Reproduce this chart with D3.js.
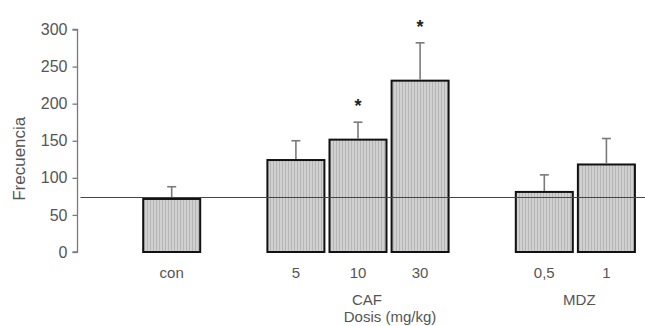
<!DOCTYPE html>
<html>
<head>
<meta charset="utf-8">
<script src="https://cdn.jsdelivr.net/npm/d3@7"></script>
<style>
  html, body { margin: 0; padding: 0; background: #fff; }
  svg { display: block; font-family: "Liberation Sans", Arial, sans-serif; }
</style>
</head>
<body>
<svg id="chart" width="645" height="326"></svg>
<script>
// ---- data ----
const slots = ["", "con", "_a", "5", "10", "30", "_b", "0,5", "1"];
const categories = ["con", "5", "10", "30", "0,5", "1"];
const means = [71.5, 124, 151.5, 231, 81, 118];
const errors = [16.5, 26, 23.5, 51, 23, 35];
const significant = [false, false, true, true, false, false];
const groups = ["CAF", "MDZ"];
const groupMembers = [["5", "10", "30"], ["0,5", "1"]];
const yTicks = [0, 50, 100, 150, 200, 250, 300];
const referenceValue = 73.5;
const yTitle = "Frecuencia";
const xTitle = "Dosis (mg/kg)";

// ---- layout ----
const svg = d3.select("#chart");
const W = 645;
const x = d3.scaleBand().domain(slots).range([76, 640]).paddingInner(0.082).paddingOuter(0.082);
const y = d3.scaleLinear().domain([0, 300]).range([252, 29.5]);

const defs = svg.append("defs");
const pat = defs.append("pattern").attr("id", "stripes").attr("patternUnits", "userSpaceOnUse")
  .attr("width", 3).attr("height", 3);
pat.append("rect").attr("width", 3).attr("height", 3).attr("fill", "#d0d0d0");
pat.append("rect").attr("x", 0).attr("width", 1).attr("height", 3).attr("fill", "#b6b6b6");

// y axis
const yAxis = d3.axisLeft(y).tickValues(yTicks).tickSize(5).tickPadding(5);
const gy = svg.append("g").attr("transform", "translate(77.5,0)").call(yAxis);
gy.select(".domain").attr("stroke", "#7a7a7a").attr("stroke-width", 1.3).attr("d", `M-5,${y(300)}H0V${y(0)}H-5`);
gy.selectAll(".tick line").attr("stroke", "#7a7a7a").attr("stroke-width", 1.3);
gy.selectAll(".tick text").attr("fill", "#555").attr("font-size", 16).attr("font-family", "Liberation Sans, Arial, sans-serif");

// y title
svg.append("text")
  .attr("transform", `translate(25,${(y(0)+y(300))/2 + 18}) rotate(-90)`)
  .attr("text-anchor", "middle")
  .attr("fill", "#555").attr("font-size", 17)
  .text(yTitle);

const data = categories.map((c, i) => ({ c, m: means[i], e: errors[i], s: significant[i] }));

// bars
svg.append("g").selectAll("rect").data(data).join("rect")
  .attr("x", d => x(d.c))
  .attr("y", d => y(d.m))
  .attr("width", x.bandwidth())
  .attr("height", d => y(0) - y(d.m))
  .attr("fill", "url(#stripes)")
  .attr("stroke", "#111").attr("stroke-width", 2);

// error bars
const eb = svg.append("g").attr("stroke", "#7a7a7a").attr("stroke-width", 1.6);
data.forEach(d => {
  const cx = x(d.c) + x.bandwidth() / 2;
  eb.append("line").attr("x1", cx).attr("x2", cx).attr("y1", y(d.m) - 1).attr("y2", y(d.m + d.e));
  eb.append("line").attr("x1", cx - 4.5).attr("x2", cx + 4.5).attr("y1", y(d.m + d.e)).attr("y2", y(d.m + d.e));
});

// reference line
svg.append("line")
  .attr("x1", 80.5).attr("x2", W)
  .attr("y1", y(referenceValue)).attr("y2", y(referenceValue))
  .attr("stroke", "#444").attr("stroke-width", 1);

// significance stars
svg.append("g").selectAll("text").data(data.filter(d => d.s)).join("text")
  .attr("x", d => x(d.c) + x.bandwidth() / 2)
  .attr("y", d => y(d.m + d.e) - 10)
  .attr("text-anchor", "middle")
  .attr("font-size", 18).attr("font-weight", "bold").attr("fill", "#222")
  .text("*");

// category labels
svg.append("g").selectAll("text").data(data).join("text")
  .attr("x", d => x(d.c) + x.bandwidth() / 2)
  .attr("y", 278)
  .attr("text-anchor", "middle")
  .attr("fill", "#555").attr("font-size", 15)
  .text(d => d.c);

// group labels
groups.forEach((g, i) => {
  const mem = groupMembers[i];
  const cx = (x(mem[0]) + x(mem[mem.length - 1]) + x.bandwidth()) / 2;
  svg.append("text").attr("x", cx + (i === 0 ? 9 : 4)).attr("y", 305)
    .attr("text-anchor", "middle").attr("fill", "#555").attr("font-size", 15).text(g);
});

// x title
svg.append("text")
  .attr("x", x("10") + x.bandwidth() / 2 + 32).attr("y", 322)
  .attr("text-anchor", "middle").attr("fill", "#555").attr("font-size", 15)
  .text(xTitle);
</script>
</body>
</html>
